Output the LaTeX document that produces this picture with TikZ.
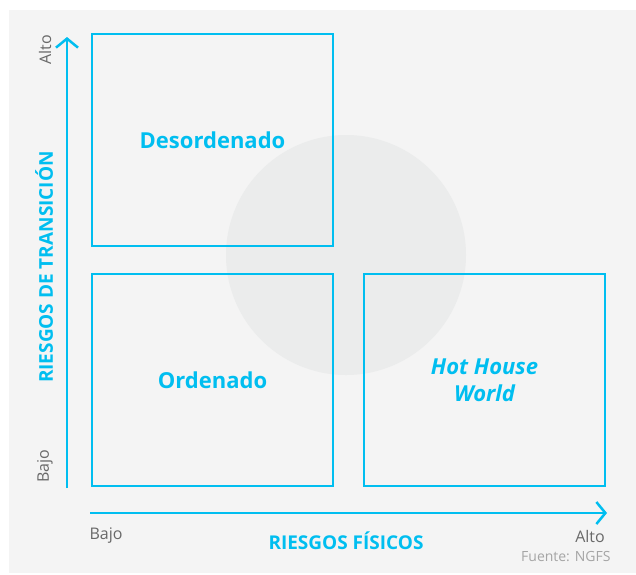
\documentclass[tikz,border=0pt]{standalone}
\usepackage{fontspec}
\setmainfont{Open Sans}
\usetikzlibrary{arrows.meta}
\definecolor{ngfsblue}{RGB}{0,190,240}
\definecolor{bggray}{RGB}{244,244,244}
\definecolor{circgray}{RGB}{235,236,236}
\definecolor{axgray}{RGB}{105,105,105}
\definecolor{srcgray}{RGB}{165,165,165}
\tikzset{
  quadrant/.style={draw=ngfsblue, line width=2pt, minimum width=241pt,
    minimum height=212pt, inner sep=0pt, text=ngfsblue, align=center,
    font=\fontsize{22}{27}\selectfont\bfseries},
  axisline/.style={draw=ngfsblue, line width=2.5pt,
    -{Straight Barb[length=9pt,width=22pt,line width=2.5pt]}},
  axtitle/.style={text=ngfsblue, font=\fontsize{19}{22}\selectfont\bfseries},
  ticklabel/.style={text=axgray, font=\fontsize{16}{18}\selectfont},
}
\begin{document}
\begin{tikzpicture}[x=1pt, y=-1pt]
  \useasboundingbox (0, 0) rectangle (636, 574);
  \fill[bggray] (9, 10) rectangle (636, 573);
  \fill[circgray] (346, 255) circle (120);

  % the three scenarios
  \node[quadrant] (desord) at (212.5, 140) {Desordenado};
  \node[quadrant] (orden) at (212.5, 380) {Ordenado};
  \node[quadrant] (hothouse) at (484.5, 380) {\itshape Hot House\\\itshape World};

  % axes
  \coordinate (ybot) at (67, 488);
  \coordinate (ytop) at (67, 37);
  \coordinate (xleft) at (90, 513);
  \coordinate (xright) at (607, 513);
  \draw[axisline] (ybot) -- (ytop);
  \draw[axisline] (xleft) -- (xright);

  \node[ticklabel, rotate=90] (yalto) at (45, 50) {Alto};
  \node[ticklabel, rotate=90] (ybajo) at (45, 466) {Bajo};
  \node[axtitle, rotate=90] (ytitle) at (44, 267) {RIESGOS DE TRANSICIÓN};
  \node[ticklabel] (xbajo) at (106, 536) {Bajo};
  \node[ticklabel] (xalto) at (590, 536) {Alto};
  \node[axtitle] (xtitle) at (346, 541) {RIESGOS FÍSICOS};
  \node[text=srcgray, font=\fontsize{14}{16}\selectfont, anchor=east] (fuente) at (614, 557) {Fuente: NGFS};
\end{tikzpicture}
\end{document}
